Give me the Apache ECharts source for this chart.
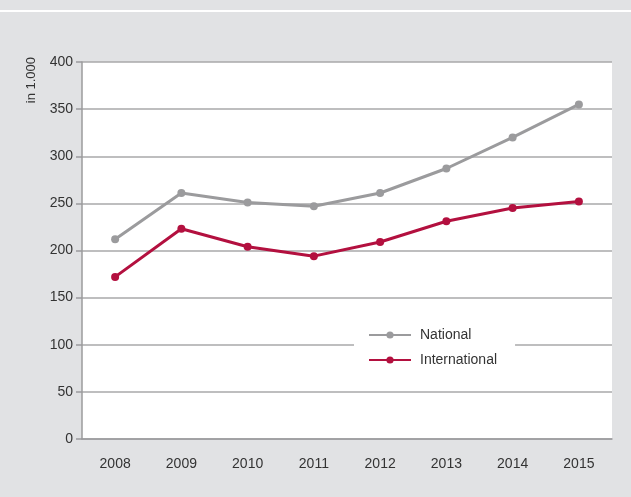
<!DOCTYPE html>
<html>
<head>
<meta charset="utf-8">
<script src="https://cdn.jsdelivr.net/npm/echarts@6/dist/echarts.min.js"></script>
<style>
  html, body { margin: 0; padding: 0; background: #e1e2e4; }
  #chart { width: 631px; height: 497px; }
</style>
</head>
<body>
<div id="chart"></div>
<script>
var years = ['2008', '2009', '2010', '2011', '2012', '2013', '2014', '2015'];
var national = [212, 261, 251, 247, 261, 287, 320, 355];
var international = [172, 223, 204, 194, 209, 231, 245, 252];
var yTicks = [0, 50, 100, 150, 200, 250, 300, 350, 400];

var font = '"Liberation Sans", Arial, sans-serif';
var grey = '#9b9b9d';
var red = '#b3103f';

var chart = echarts.init(document.getElementById('chart'));
var option = {
  backgroundColor: '#e1e2e4',
  animation: false,
  textStyle: { fontFamily: font },
  graphic: [
    { type: 'rect', shape: { x: 0, y: 10, width: 631, height: 2 }, style: { fill: '#ffffff' } }
  ],
  grid: {
    left: 82, right: 19, top: 62, bottom: 58,
    show: true, backgroundColor: '#ffffff', borderWidth: 0
  },
  legend: {
    orient: 'vertical',
    left: 354, top: 322,
    backgroundColor: '#ffffff',
    padding: [6, 18, 8, 14],
    itemGap: 11,
    itemWidth: 42, itemHeight: 9,
    textStyle: { fontFamily: font, fontSize: 14, color: '#333', padding: [0, 0, 0, 4] },
    data: ['National', 'International']
  },
  xAxis: {
    type: 'category',
    data: years,
    boundaryGap: true,
    axisLine: { lineStyle: { color: grey, width: 1.5 } },
    axisTick: { alignWithLabel: true, length: 6, lineStyle: { color: grey, width: 1.5 } },
    axisLabel: { fontFamily: font, fontSize: 14, color: '#333', margin: 18 }
  },
  yAxis: {
    type: 'value',
    min: 0, max: 400, interval: 50,
    name: 'in 1.000',
    nameLocation: 'end',
    nameRotate: 90,
    nameGap: 5,
    nameTextStyle: { fontFamily: font, fontSize: 13, color: '#333', align: 'right', verticalAlign: 'bottom', padding: [0, 0, 44, 0] },
    axisLine: { show: true, lineStyle: { color: grey, width: 1.5 } },
    axisTick: { show: true, length: 6, lineStyle: { color: grey, width: 1.5 } },
    axisLabel: { fontFamily: font, fontSize: 14, color: '#333', margin: 9,
      formatter: function (v) { return yTicks.indexOf(v) >= 0 ? String(v) : ''; } },
    splitLine: { lineStyle: { color: '#a8a8aa', width: 1.5 } }
  },
  series: [
    {
      name: 'National', type: 'line', data: national,
      symbol: 'circle', symbolSize: 8,
      lineStyle: { color: grey, width: 3 },
      itemStyle: { color: grey }
    },
    {
      name: 'International', type: 'line', data: international,
      symbol: 'circle', symbolSize: 8,
      lineStyle: { color: red, width: 3 },
      itemStyle: { color: red }
    }
  ]
};
chart.setOption(option);
</script>
</body>
</html>
